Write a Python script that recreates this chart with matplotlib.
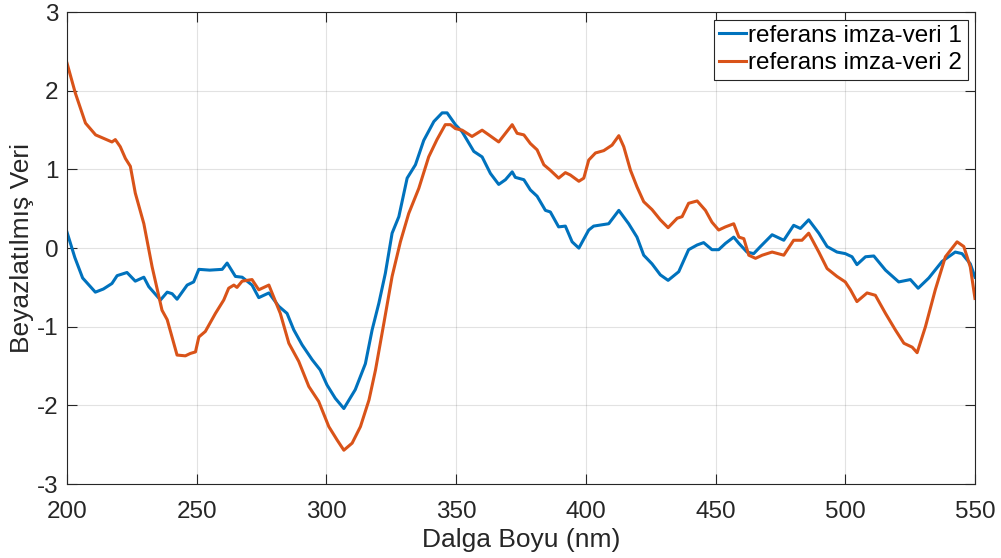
import matplotlib
matplotlib.use("Agg")
import matplotlib.pyplot as plt

# (wavelength nm, whitened value)
x1 = [200, 203, 206, 210.9, 214, 217.3, 219.3, 223.1, 226.3, 229.6, 231.5, 236, 238.6, 240.5,
      242.4, 246.3, 248.8, 250.8, 255, 259.8, 261.7, 264.9, 267.5, 271.3, 273.9, 277.8, 281.6,
      284.8, 287.4, 290.6, 294.5, 297.6, 300.2, 303.4, 306.7, 311.1, 315, 317.6, 320.2, 322.7,
      325.3, 327.9, 331.1, 334.3, 337.5, 341.4, 344.6, 346.5, 349.7, 352.3, 356.8, 360, 363.2,
      366.4, 369, 371.6, 372.8, 376.1, 378.6, 381.2, 384.4, 386.3, 389.5, 392.1, 394.7, 397.3,
      401.1, 403, 408.8, 412.7, 416.5, 419.7, 422.3, 425.5, 428.7, 431.7, 435.8, 439.6, 442.9,
      445.4, 448.6, 451.2, 453.8, 457, 459, 462.1, 464.7, 467.3, 471.8, 476.3, 480.1, 482.7,
      485.9, 489.8, 493, 496.8, 500, 502.6, 504.5, 507.8, 511, 515.5, 520.6, 525.1, 528.1,
      532.2, 537.3, 542.4, 545, 548.2, 550]
y1 = [0.2, -0.12, -0.38, -0.56, -0.52, -0.45, -0.35, -0.31, -0.42, -0.37, -0.49, -0.66, -0.56, -0.58,
      -0.65, -0.47, -0.43, -0.27, -0.28, -0.27, -0.19, -0.36, -0.37, -0.47, -0.63, -0.57, -0.74,
      -0.83, -1.04, -1.23, -1.42, -1.55, -1.74, -1.91, -2.04, -1.80, -1.47, -1.04, -0.70, -0.32,
      0.19, 0.40, 0.89, 1.06, 1.37, 1.61, 1.72, 1.72, 1.57, 1.48, 1.23, 1.16, 0.95,
      0.81, 0.87, 0.97, 0.90, 0.87, 0.74, 0.66, 0.48, 0.46, 0.27, 0.28, 0.08, 0.0,
      0.23, 0.28, 0.31, 0.48, 0.31, 0.14, -0.09, -0.20, -0.34, -0.41, -0.30, -0.02, 0.04,
      0.07, -0.02, -0.02, 0.06, 0.14, 0.06, -0.05, -0.07, 0.02, 0.17, 0.10, 0.29, 0.25,
      0.36, 0.19, 0.02, -0.05, -0.07, -0.11, -0.21, -0.11, -0.10, -0.28, -0.43, -0.40, -0.51,
      -0.38, -0.17, -0.05, -0.07, -0.20, -0.37]

x2 = [200, 203.2, 207.1, 211, 217.3, 218.6, 220.5, 222.5, 224.4, 226.3, 229.6, 232.8, 236.6,
      238.6, 242.4, 245.6, 247.5, 249.5, 250.8, 253.3, 257.2, 260.4, 262.3, 264.3, 265.5, 267.5,
      271.3, 273.9, 277.8, 282.2, 285.5, 289.3, 293.2, 297, 300.9, 304.1, 306.7, 309.9, 313.1,
      316.4, 318.9, 322.1, 325.3, 328.5, 331.7, 335.6, 339.4, 342.6, 345.8, 347.8, 349.7, 352.3,
      356.1, 360, 362.6, 366.4, 369, 371.6, 373.5, 376.1, 378.6, 381.2, 383.8, 386.3, 389.5,
      392.1, 394, 397.3, 399.2, 401.1, 403.7, 406.9, 410.1, 412.7, 414.6, 417.2, 419.7, 422.3,
      425.5, 428.7, 431.7, 435.2, 437.1, 439.6, 442.9, 446.1, 448.6, 451.2, 453.8, 457, 459,
      460.9, 462.8, 465.4, 468, 471.8, 476.3, 480.1, 483.3, 485.9, 489.8, 493, 496.8, 500,
      502, 504.5, 508.4, 511.6, 515.5, 519.3, 522.6, 525.8, 527.7, 530.9, 534.7, 538.6, 543.1,
      545.7, 548.2, 550]
y2 = [2.35, 1.97, 1.59, 1.44, 1.35, 1.38, 1.29, 1.14, 1.04, 0.70, 0.31, -0.24, -0.79,
      -0.91, -1.36, -1.37, -1.34, -1.32, -1.13, -1.06, -0.83, -0.66, -0.51, -0.47, -0.50, -0.42,
      -0.40, -0.53, -0.47, -0.83, -1.21, -1.44, -1.76, -1.95, -2.27, -2.44, -2.57, -2.48, -2.27,
      -1.93, -1.55, -0.96, -0.36, 0.08, 0.44, 0.76, 1.16, 1.38, 1.57, 1.57, 1.52, 1.50,
      1.42, 1.50, 1.44, 1.35, 1.46, 1.57, 1.46, 1.44, 1.33, 1.25, 1.06, 0.99, 0.89,
      0.96, 0.93, 0.85, 0.89, 1.12, 1.21, 1.24, 1.31, 1.43, 1.29, 0.99, 0.78, 0.59,
      0.49, 0.36, 0.26, 0.38, 0.40, 0.57, 0.60, 0.48, 0.33, 0.23, 0.27, 0.31, 0.14,
      0.12, -0.09, -0.13, -0.09, -0.05, -0.09, 0.10, 0.10, 0.19, -0.05, -0.26, -0.36, -0.43,
      -0.53, -0.68, -0.57, -0.60, -0.83, -1.04, -1.21, -1.26, -1.33, -1.0, -0.53, -0.11, 0.08,
      0.02, -0.24, -0.64]

labels = ["referans imza-veri 1", "referans imza-veri 2"]

plt.rcParams["font.family"] = ["Liberation Sans", "DejaVu Sans"]
plt.rcParams["axes.unicode_minus"] = False

fig = plt.figure(figsize=(10.01, 5.58), dpi=100)
ax = fig.add_axes([0.067, 0.1326, 0.907, 0.8455])

ax.plot(x1, y1, color="#0072BD", lw=2.2, label=labels[0])
ax.plot(x2, y2, color="#D95319", lw=2.2, label=labels[1])

ax.set_xlim(200, 550)
ax.set_ylim(-3, 3)
ax.set_xticks(range(200, 551, 50))
ax.set_yticks(range(-3, 4))
ax.grid(True, color="#262626", alpha=0.13, lw=0.8)
ax.tick_params(direction="in", length=7, width=0.8, colors="#262626",
               labelsize=17.5, top=True, right=True)
ax.tick_params(axis="x", pad=12)
ax.tick_params(axis="y", pad=6)
for s in ax.spines.values():
    s.set_color("#262626")
    s.set_linewidth(0.8)

ax.set_xlabel("Dalga Boyu (nm)", fontsize=19, color="#262626", labelpad=4)
ax.set_ylabel("Beyazlatılmış Veri", fontsize=19, color="#262626", labelpad=2)

leg = ax.legend(loc="upper right", fontsize=17.5, handlelength=1.1, handletextpad=0.1,
                borderaxespad=0.3, borderpad=0.22, labelspacing=0.22, fancybox=False,
                framealpha=1)
leg.get_frame().set_edgecolor("#262626")
leg.get_frame().set_linewidth(0.8)

fig.savefig("out.png", dpi=100)
